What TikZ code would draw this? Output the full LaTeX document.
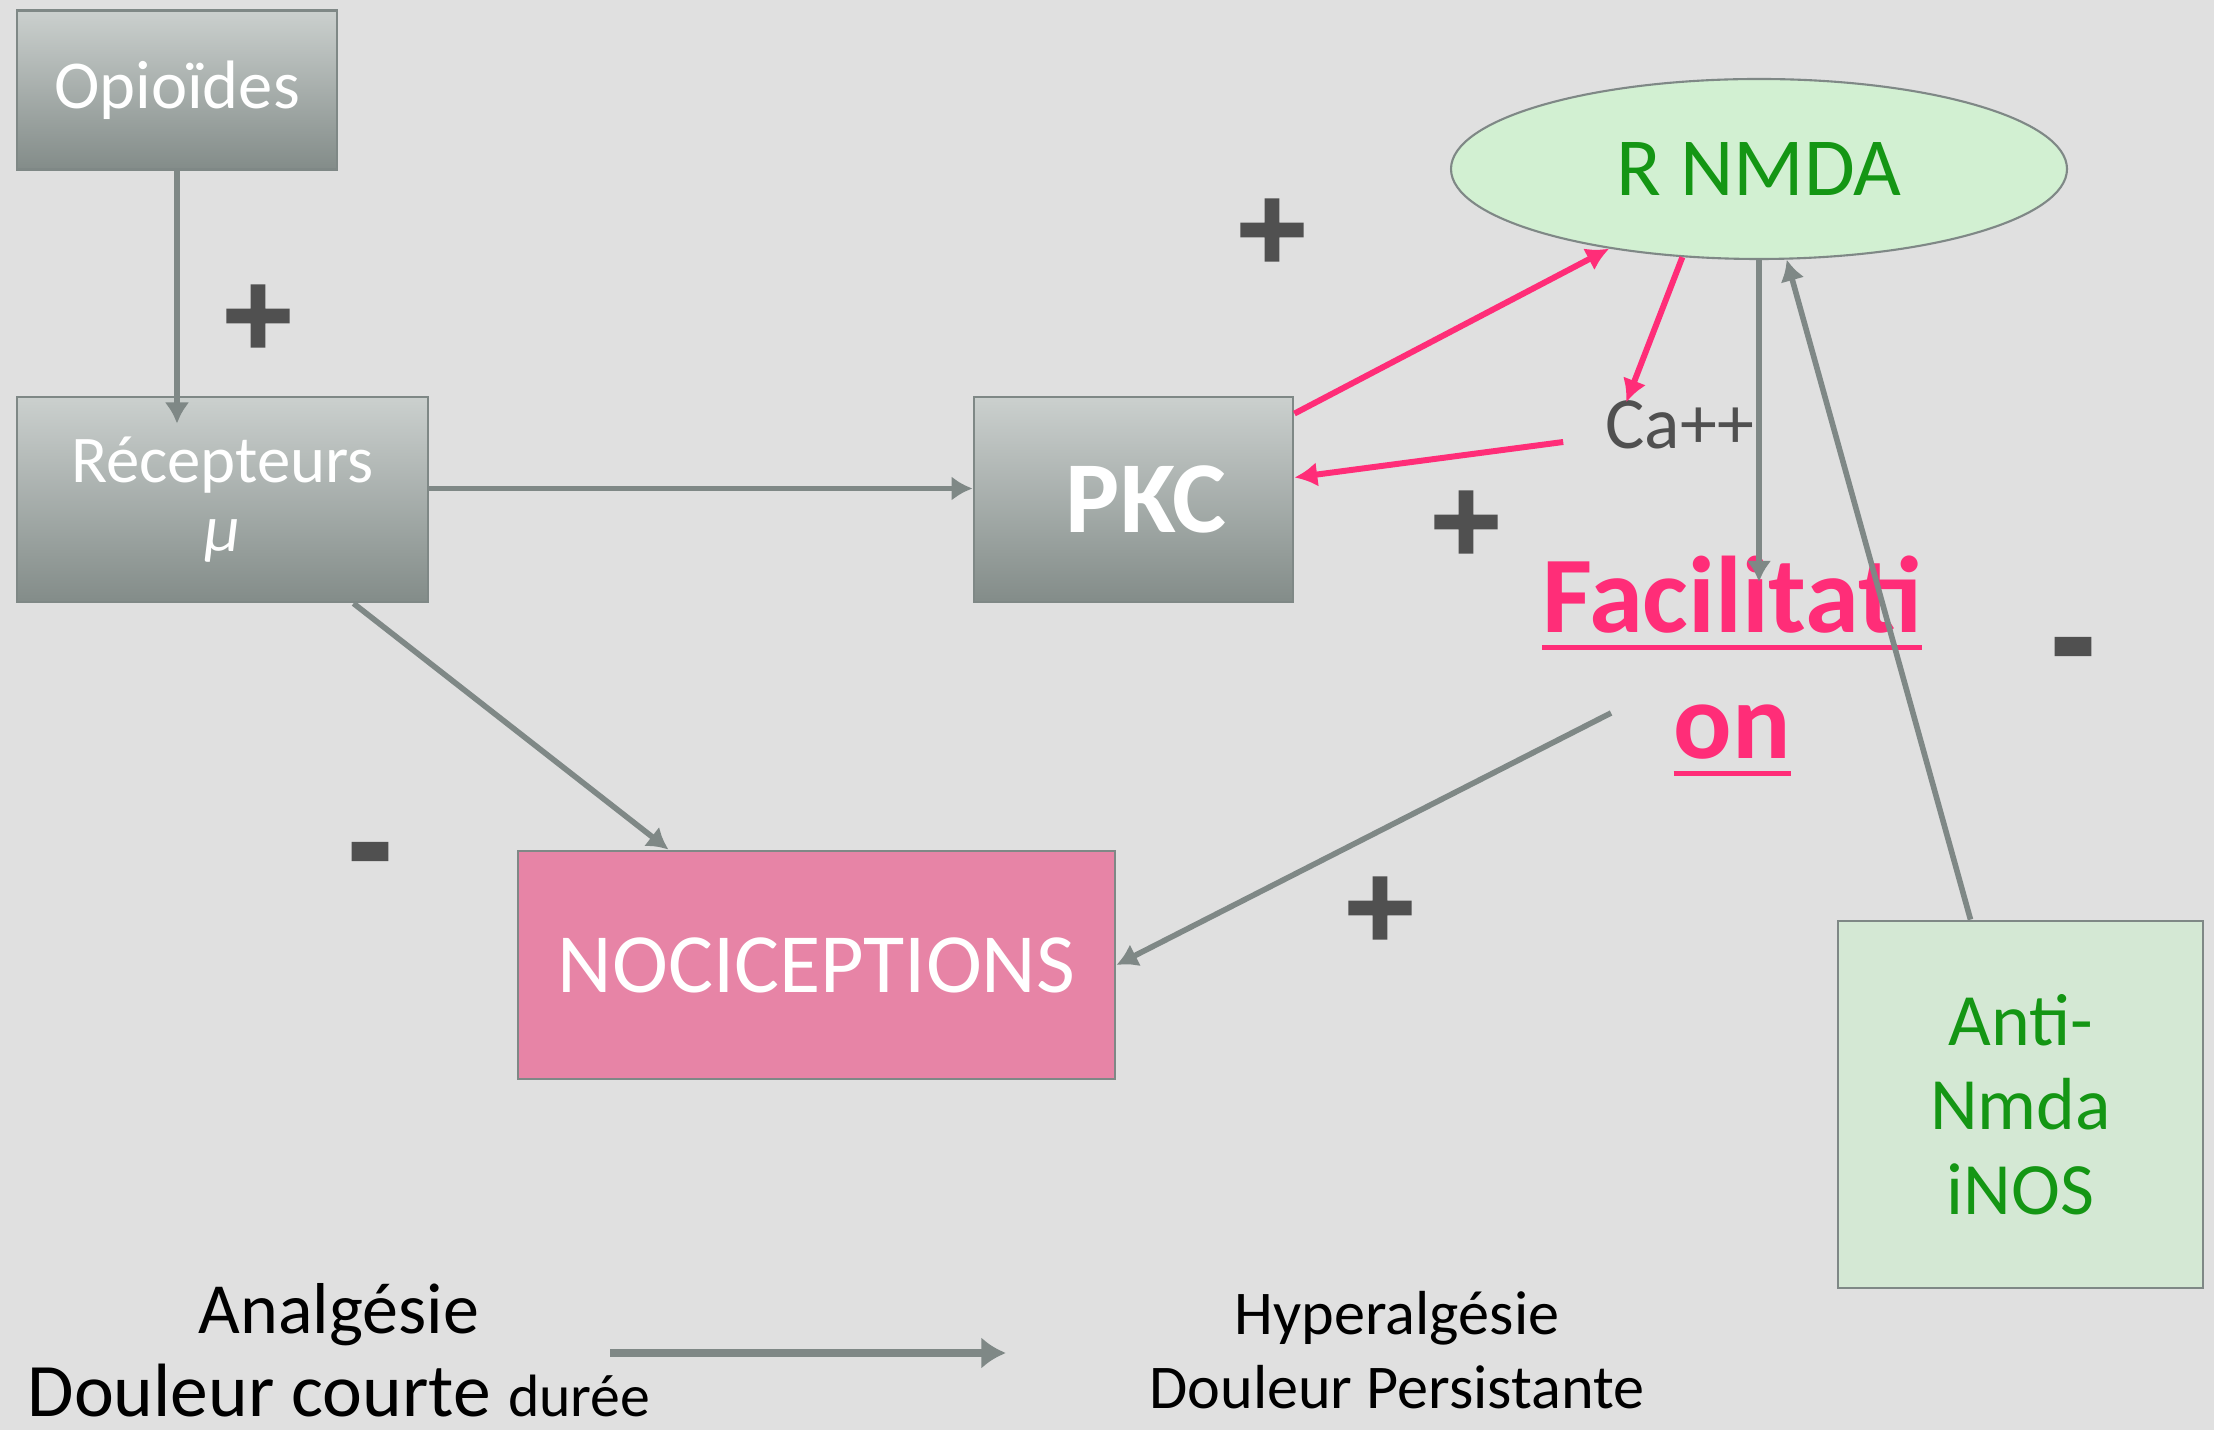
\documentclass[tikz,border=0pt]{standalone}
\usepackage{fontspec}
\setmainfont{Carlito}
\newfontfamily\signfont[FakeBold=4]{DejaVu Sans}
\usetikzlibrary{
  arrows.meta,
  positioning,
  shapes.geometric,
  calc
}
\definecolor{bggray}{RGB}{224,224,224}
\definecolor{boxtop}{RGB}{203,208,206}
\definecolor{boxbot}{RGB}{131,140,137}
\definecolor{edgegray}{RGB}{127,136,134}
\definecolor{nocipink}{RGB}{231,132,166}
\definecolor{hotpink}{RGB}{255,45,120}
\definecolor{nmdafill}{RGB}{210,240,210}
\definecolor{antifill}{RGB}{212,232,212}
\definecolor{leafgreen}{RGB}{20,150,20}
\definecolor{signgray}{RGB}{80,80,80}
\newcommand{\ulword}[1]{\setbox0\hbox{#1}\rlap{\color{hotpink}\rule[-5pt]{\wd0}{1.5pt}}\box0}

\begin{document}
\begin{tikzpicture}[
  graybox/.style={rectangle, draw=edgegray, line width=0.8pt, top color=boxtop, bottom color=boxbot, text=white, align=center, inner sep=0pt},
  conn/.style={draw=edgegray, line width=1.6pt, -{Latex[length=6pt,width=7pt]}},
  pinkconn/.style={draw=hotpink, line width=1.7pt, -{Latex[length=6.5pt,width=7pt]}},
  sign/.style={text=signgray, inner sep=0pt, font=\signfont\bfseries\fontsize{27}{27}\selectfont}
]
  \fill[bggray] (0,0) rectangle (22.14,-14.30);
  \useasboundingbox (0,0) rectangle (22.14,-14.30);

  \node[graybox, minimum width=3.20cm, minimum height=1.59cm, font=\fontsize{19.5}{24}\selectfont] (opio) at (1.77,-0.90) {Opioïdes};
  \node[graybox, minimum width=4.11cm, minimum height=2.05cm, font=\fontsize{19}{19.5}\selectfont] (recep) at (2.225,-4.995) {Récepteurs\\{\itshape μ}};
  \node[graybox, minimum width=3.19cm, minimum height=2.05cm, font=\bfseries\fontsize{29}{30}\selectfont] (pkc) at (11.335,-4.995) {\hspace*{0.25cm}PKC};
  \node[rectangle, draw=edgegray, line width=0.8pt, fill=nocipink, text=white, minimum width=5.97cm, minimum height=2.28cm, font=\fontsize{24}{26}\selectfont] (noci) at (8.165,-9.65) {NOCICEPTIONS};
  \node[ellipse, draw=edgegray, line width=0.6pt, fill=nmdafill, text=leafgreen, minimum width=6.16cm, minimum height=1.80cm, inner sep=0pt, font=\fontsize{23.5}{28}\selectfont] (rnmda) at (17.59,-1.69) {R NMDA};
  \node[rectangle, draw=edgegray, line width=0.8pt, fill=antifill, text=leafgreen, align=center, minimum width=3.65cm, minimum height=3.67cm, font=\fontsize{21}{24}\selectfont] (anti) at (20.205,-11.045) {Anti-\\Nmda\\iNOS};
  \node[text=signgray, font=\fontsize{21}{24}\selectfont] (ca) at (16.80,-4.25) {Ca++};
  \node[text=hotpink, align=center, font=\bfseries\fontsize{31}{36}\selectfont] (fac) at (17.32,-6.66) {\ulword{Facilitati}\\\ulword{on}};

  \node[sign] (plusa) at (2.58,-3.16) {+};
  \node[sign] (plusb) at (12.72,-2.30) {+};
  \node[sign] (plusc) at (14.66,-5.22) {+};
  \node[sign] (plusd) at (13.80,-9.08) {+};
  \node[sign, font=\signfont\bfseries\fontsize{30}{30}\selectfont] (minusa) at (3.70,-8.63) {-};
  \node[sign, font=\signfont\bfseries\fontsize{30}{30}\selectfont] (minusb) at (20.73,-6.58) {-};

  \node[align=center, inner sep=0pt, font=\fontsize{20.5}{23.5}\selectfont] (ana) at (3.39,-13.50) {Analgésie\\{\fontsize{21.5}{23.5}\selectfont Douleur courte {\fontsize{17}{20}\selectfont durée}}};
  \node[align=center, font=\fontsize{17.7}{21}\selectfont] (hyper) at (13.97,-13.50) {Hyperalgésie\\Douleur Persistante};

  \coordinate (facstart) at (16.11,-7.13);
  \coordinate (shiftstart) at (6.10,-13.53);

  \draw[conn] (opio.south) -- ($(opio.south |- recep.north)+(0,-0.28)$);
  \draw[conn] ($(recep.east)+(0,0.11)$) -- ($(pkc.west)+(0,0.11)$);
  \draw[conn] ($(recep.south)+(1.31,0)$) -- ($(noci.north)+(-1.48,0)$);
  \draw[conn] (facstart) -- (noci.east);
  \draw[pinkconn] ($(pkc.north east)+(0,-0.18)$) -- (rnmda.208);
  \draw[pinkconn] (rnmda.229) -- ($(ca.north west)+(0.33,-0.14)$);
  \draw[pinkconn] ($(ca.west)+(-0.30,-0.17)$) -- ($(pkc.east)+(0,0.22)$);
  \draw[conn] (rnmda.south) -- ($(rnmda.south |- fac.center)+(0,0.84)$);
  \draw[conn] ($(anti.north)+(-0.50,0)$) -- (rnmda.287);
  \draw[draw=edgegray, line width=2.2pt, -{Latex[length=7pt,width=9pt]}] (shiftstart) -- ($(hyper.west |- shiftstart)+(-1.31,0)$);
\end{tikzpicture}
\end{document}
